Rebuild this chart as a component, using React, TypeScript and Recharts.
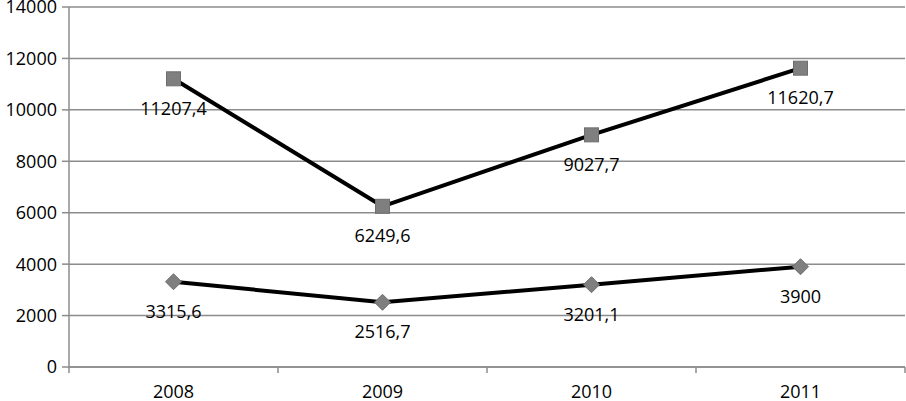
import React from "react";
import { LineChart, Line, XAxis, YAxis, CartesianGrid, LabelList } from "recharts";

const years = ["2008", "2009", "2010", "2011"];
const seriesTop = [11207.4, 6249.6, 9027.7, 11620.7];
const seriesBottom = [3315.6, 2516.7, 3201.1, 3900];
const yTicks = [0, 2000, 4000, 6000, 8000, 10000, 12000, 14000];

const data = years.map((y, i) => ({ year: y, top: seriesTop[i], bottom: seriesBottom[i] }));

const FONT = "'Open Sans', Lato, sans-serif";
const GRID = "#8c8c8c";
const MARK = "#7f7f7f";

const fmt = (v: number) => String(v).replace(".", ",");

const SquareDot = (props: any) => {
  const { cx, cy } = props;
  if (cx == null || cy == null) return null;
  return <rect x={cx - 7} y={cy - 7} width={14} height={14} fill={MARK} stroke="#6e6e6e" strokeWidth={1} />;
};

const DiamondDot = (props: any) => {
  const { cx, cy } = props;
  if (cx == null || cy == null) return null;
  const r = 8;
  return (
    <polygon
      points={`${cx},${cy - r} ${cx + r},${cy} ${cx},${cy + r} ${cx - r},${cy}`}
      fill={MARK}
      stroke="#6e6e6e"
      strokeWidth={1}
    />
  );
};

const renderLabel = (props: any) => {
  const { x, y, value } = props;
  return (
    <text x={x} y={y + 36} textAnchor="middle" fontFamily={FONT} fontSize={18} fill="#000">
      {fmt(value)}
    </text>
  );
};

const XTick = (props: any) => {
  const { x, y, payload, index, visibleTicksCount } = props;
  const off = payload?.offset ?? 0;
  const last = index === (visibleTicksCount ?? years.length) - 1;
  return (
    <g>
      <line x1={x - off} x2={x - off} y1={y} y2={y + 6} stroke={GRID} strokeWidth={1.5} />
      {last && <line x1={x + off} x2={x + off} y1={y} y2={y + 6} stroke={GRID} strokeWidth={1.5} />}
      <text x={x} y={y + 31} textAnchor="middle" fontFamily={FONT} fontSize={18} fill="#000">
        {payload.value}
      </text>
    </g>
  );
};

export default function App() {
  return (
    <div style={{ position: "absolute", left: 0, top: 0, background: "#fff" }}>
      <LineChart width={906} height={401} data={data} margin={{ top: 7, right: 1, bottom: 0, left: 0 }}>
        <CartesianGrid horizontal vertical={false} stroke={GRID} strokeWidth={1.5} />
        <XAxis
          dataKey="year"
          scale="band"
          axisLine={{ stroke: GRID, strokeWidth: 1.5 }}
          tickLine={false}
          tickSize={0}
          tickMargin={0}
          tick={<XTick />}
          height={34}
          interval={0}
        />
        <YAxis
          domain={[0, 14000]}
          ticks={yTicks}
          width={69}
          axisLine={{ stroke: GRID, strokeWidth: 1.5 }}
          tickLine={{ stroke: GRID, strokeWidth: 1.5 }}
          tickSize={7}
          tickMargin={5}
          tick={{ fontFamily: FONT, fontSize: 18, fill: "#000" }}
          interval={0}
        />
        <Line
          dataKey="top"
          stroke="#000"
          strokeWidth={4}
          dot={<SquareDot />}
          activeDot={false}
          isAnimationActive={false}
        >
          <LabelList dataKey="top" content={renderLabel} />
        </Line>
        <Line
          dataKey="bottom"
          stroke="#000"
          strokeWidth={4}
          dot={<DiamondDot />}
          activeDot={false}
          isAnimationActive={false}
        >
          <LabelList dataKey="bottom" content={renderLabel} />
        </Line>
      </LineChart>
    </div>
  );
}
